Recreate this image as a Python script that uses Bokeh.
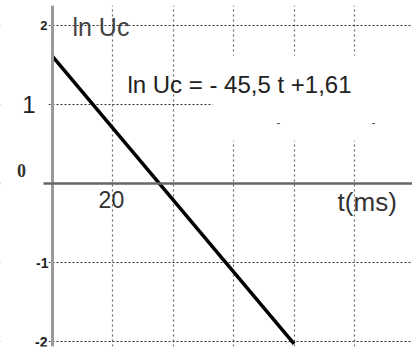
from bokeh.plotting import figure
from bokeh.models import FixedTicker, Span, Label, BoxAnnotation
from bokeh.embed import file_html
from bokeh.resources import INLINE

# data
t_ms = [0, 80]
ln_uc = [1.61, -2.03]
x_grid = [20, 40, 60, 80, 100]
y_grid = [2, 1, -1, -2]
y_tick_labels = ["2", "1", "-1", "-2"]
x_tick_value = 20
x_tick_label = "20"
equation = "ln Uc = - 45,5 t +1,61"
y_title = "ln Uc"
x_title = "t(ms)"

p = figure(width=412, height=349, x_range=(-17.22, 119.2), y_range=(-2.063, 2.253),
           output_backend="svg", toolbar_location=None,
           min_border_left=0, min_border_right=0, min_border_top=5, min_border_bottom=3)
p.xaxis.visible = False
p.yaxis.visible = False
p.outline_line_color = None
p.background_fill_color = "white"

p.xgrid.ticker = FixedTicker(ticks=x_grid)
p.xgrid.grid_line_color = "#666666"
p.xgrid.grid_line_dash = "2 3"
p.xgrid.grid_line_width = 1.2
p.ygrid.ticker = FixedTicker(ticks=y_grid)
p.ygrid.grid_line_color = "#333333"
p.ygrid.grid_line_dash = "2 2"
p.ygrid.grid_line_width = 1.2

# axes lines
p.add_layout(Span(location=0, dimension="height", line_color="#999999", line_width=3))
p.add_layout(Span(location=0, dimension="width", line_color="#666666", line_width=2.5))

# white patches where the scan shows no grid
for kw in (dict(left=53, bottom=0.54, top=1.62),
           dict(right=-1.32, bottom=0.04),
           dict(right=-1.32, top=-0.04),
           dict(right=-2.98, bottom=-0.05, top=0.05)):
    p.add_layout(BoxAnnotation(fill_color="white", fill_alpha=1.0, line_color=None, **kw))

p.line(t_ms, ln_uc, line_color="black", line_width=3.5)

font = "Liberation Sans"
# y tick labels
specs = {"2": (47, "13px", "bold"), "1": (35, "24px", "normal"),
         "-1": (48, "14px", "bold"), "-2": (47, "14px", "bold")}
for val, lab in zip(y_grid, y_tick_labels):
    sx, fs, fw = specs[lab]
    p.add_layout(Label(x=sx, y=val, x_units="screen", y_units="data", text=lab,
                       text_align="right", text_baseline="middle",
                       text_font=font, text_font_size=fs, text_font_style=fw,
                       text_color="#222222"))
p.add_layout(Label(x=21, y=0.165, x_units="screen", text="0", text_align="center",
                   text_baseline="middle", text_font="Liberation Serif",
                   text_font_size="18px", text_font_style="bold", text_color="#333333"))

p.add_layout(Label(x=x_tick_value - 0.5, y=-0.09, text=x_tick_label, text_align="center",
                   text_baseline="top", text_font=font, text_font_size="23px",
                   text_color="#333333"))
p.add_layout(Label(x=94.4, y=-0.05, text=x_title, text_align="left",
                   text_baseline="top", text_font=font, text_font_size="26px",
                   text_color="#333333"))
p.add_layout(Label(x=6.6, y=1.98, text=y_title, text_align="left",
                   text_baseline="middle", text_font=font, text_font_size="25px",
                   text_color="#444444"))
p.add_layout(Label(x=24.8, y=1.25, text=equation, text_align="left",
                   text_baseline="middle", text_font=font, text_font_size="24px",
                   text_color="#222222"))
for tx in (74.8, 106.3):
    p.add_layout(Label(x=tx, y=0.77, text="-", text_align="center",
                       text_baseline="middle", text_font=font, text_font_size="12px",
                       text_color="#555555"))

open("out.html", "w").write(file_html(p, INLINE))
